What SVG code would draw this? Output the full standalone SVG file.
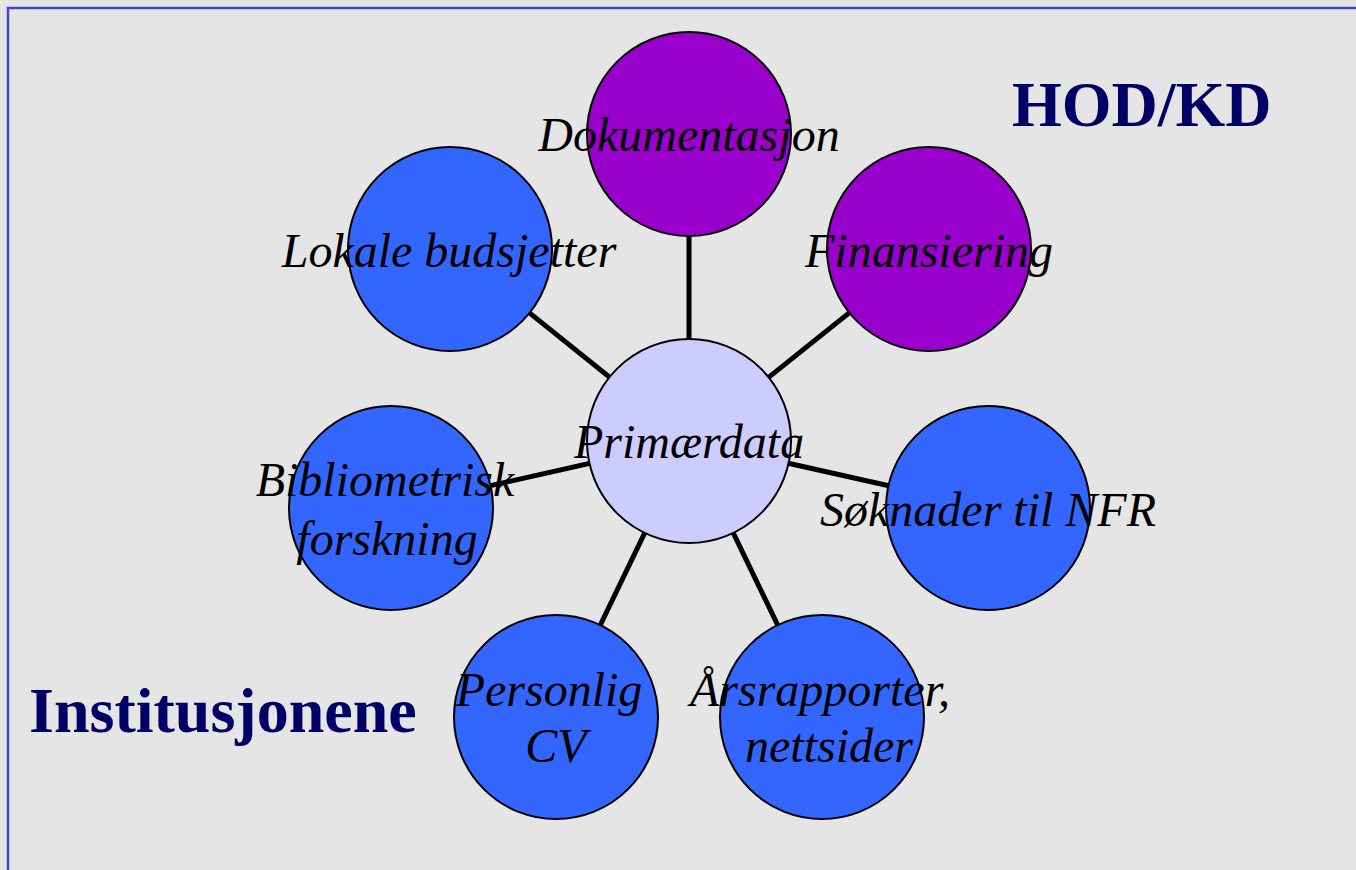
<svg xmlns="http://www.w3.org/2000/svg" width="1356" height="870" viewBox="0 0 1356 870">
<style>
.bg{fill:#e5e5e5}
.n{stroke:#000;stroke-width:2}
.blue{fill:#3366ff}
.purple{fill:#9900cc}
.center{fill:#ccccff}
.t{font-family:"Liberation Serif",serif;font-style:italic;font-size:48px;fill:#000;text-anchor:middle}
.h{font-family:"Liberation Serif",serif;font-weight:bold;font-size:64px;fill:#000066}
.c line{stroke:#000;stroke-width:5}
</style>
<rect class="bg" x="0" y="0" width="1356" height="870"/>
<path d="M8 870 V8 H1356" fill="none" stroke="#4444cc" stroke-width="2.5"/>
<g class="c" id="connectors">
<line x1="689" y1="441" x2="689" y2="134"/>
<line x1="689" y1="441" x2="450" y2="249"/>
<line x1="689" y1="441" x2="929" y2="249"/>
<line x1="689" y1="441" x2="391" y2="508"/>
<line x1="689" y1="441" x2="988" y2="508"/>
<line x1="689" y1="441" x2="556" y2="717"/>
<line x1="689" y1="441" x2="822" y2="717"/>
</g>
<g id="dokumentasjon"><circle class="n purple" cx="689" cy="134" r="102"/><text class="t" x="689" y="151">Dokumentasjon</text></g>
<g id="lokale"><circle class="n blue" cx="450" cy="249" r="102"/><text class="t" x="449" y="267">Lokale budsjetter</text></g>
<g id="finansiering"><circle class="n purple" cx="929" cy="249" r="102"/><text class="t" x="929" y="267">Finansiering</text></g>
<g id="primaerdata"><circle class="n center" cx="689" cy="441" r="102"/><text class="t" x="689" y="458">Primærdata</text></g>
<g id="bibliometrisk"><circle class="n blue" cx="391" cy="508" r="102"/><text class="t" x="385" y="496">Bibliometrisk</text><text class="t" x="387" y="555">forskning</text></g>
<g id="soknader"><circle class="n blue" cx="988" cy="508" r="102"/><text class="t" x="988" y="526">Søknader til NFR</text></g>
<g id="cv"><circle class="n blue" cx="556" cy="717" r="102"/><text class="t" x="549" y="706">Personlig</text><text class="t" x="556" y="762">CV</text></g>
<g id="arsrapporter"><circle class="n blue" cx="822" cy="717" r="102"/><text class="t" x="820" y="706">Årsrapporter,</text><text class="t" x="829" y="762">nettsider</text></g>
<text class="h" x="1012" y="126">HOD/KD</text>
<text class="h" x="29" y="732">Institusjonene</text>
</svg>
